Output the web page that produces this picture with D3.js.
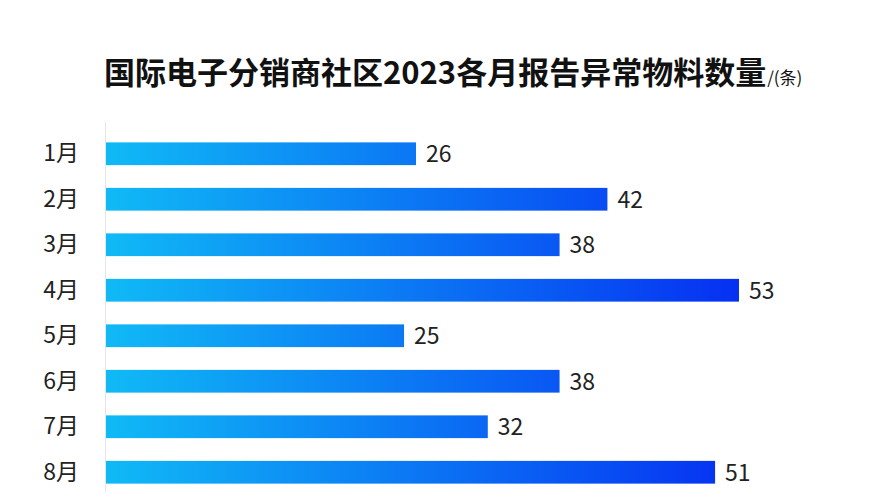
<!DOCTYPE html>
<html><head><meta charset="utf-8">
<script src="https://cdn.jsdelivr.net/npm/d3@7/dist/d3.min.js"></script>
<style>body{margin:0;background:#fff;}svg{display:block;}</style>
</head><body>
<svg id="c" width="870" height="492"></svg>
<script>
const months = ["1月","2月","3月","4月","5月","6月","7月","8月"];
const values = [26,42,38,53,25,38,32,51];
const titleMain = "国际电子分销商社区2023各月报告异常物料数量";
const titleUnit = "/(条)";

const svg = d3.select("#c");
const font = "'Noto Sans CJK SC','Noto Sans',sans-serif";
const x = d3.scaleLinear().domain([0,53]).range([105,739]);
const y = d3.scaleBand().domain(months).range([131,495]).paddingInner(0.5).paddingOuter(0.25);

const defs = svg.append("defs");
const g = defs.append("linearGradient").attr("id","grad").attr("gradientUnits","userSpaceOnUse")
  .attr("x1",x(0)).attr("x2",x(53)).attr("y1",0).attr("y2",0);
g.append("stop").attr("offset","0%").attr("stop-color","#10baf6");
g.append("stop").attr("offset","100%").attr("stop-color","#0630f2");

// title
const t = svg.append("text").attr("x",104).attr("y",84).attr("font-family",font).attr("fill","#111");
t.append("tspan").attr("font-size",31).attr("font-weight","bold").text(titleMain);
t.append("tspan").attr("font-size",17).attr("dx",1).text(titleUnit);

// axis line
svg.append("line").attr("x1",105.5).attr("x2",105.5).attr("y1",122).attr("y2",492)
  .attr("stroke","#e6e6e6").attr("stroke-width",1);

const yAxis = d3.axisLeft(y).tickSize(0).tickPadding(0);
const ya = svg.append("g").attr("transform","translate(79,0)").call(yAxis);
ya.select(".domain").remove();
ya.selectAll("text").attr("font-family",font).attr("font-size",23).attr("fill","#222");

svg.append("g").selectAll("rect").data(values).join("rect")
  .attr("x",x(0)+1).attr("y",(d,i)=>y(months[i]))
  .attr("width",d=>x(d)-x(0)-1).attr("height",y.bandwidth())
  .attr("fill","url(#grad)");

svg.append("g").selectAll("text").data(values).join("text")
  .attr("x",d=>x(d)+10).attr("y",(d,i)=>y(months[i])+y.bandwidth()/2)
  .attr("dy","0.36em").attr("font-family",font).attr("font-size",23).attr("fill","#222")
  .text(d=>d);
</script>
</body></html>
